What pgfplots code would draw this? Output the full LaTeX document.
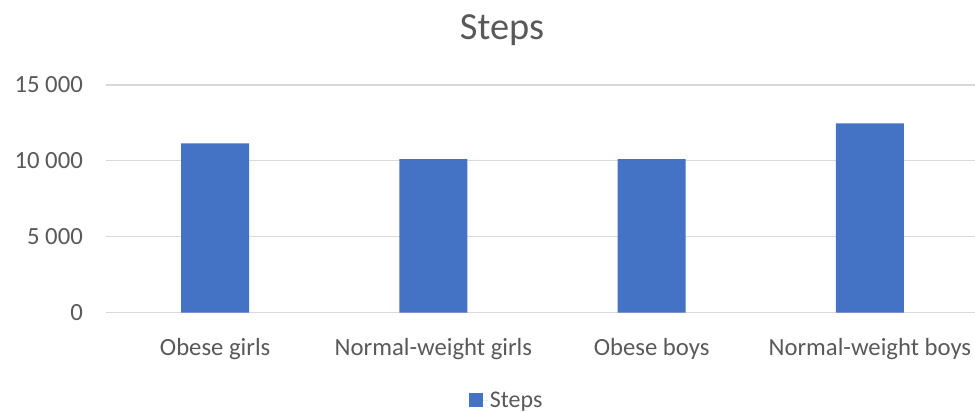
\documentclass[border=0pt]{standalone}
\usepackage{pgfplots}
\pgfplotsset{compat=1.18}
\usepackage{fontspec}
\setmainfont{Carlito}
\definecolor{barblue}{HTML}{4472C4}
\definecolor{gridgray}{HTML}{D9D9D9}
\definecolor{txtgray}{HTML}{595959}
\begin{document}
\begin{tikzpicture}
\useasboundingbox (0bp,0bp) rectangle (975bp,412bp);
\begin{axis}[
  at={(106bp,99.3bp)}, anchor=south west,
  scale only axis, width=873bp, height=227.7bp,
  ymin=0, ymax=15000, xmin=-0.5, xmax=3.5,
  scaled ticks=false,
  ytick={0,5000,10000,15000},
  yticklabels={0,5 000,10 000,15 000},
  xtick={0,1,2,3},
  xticklabels={Obese girls,Normal-weight girls,Obese boys,Normal-weight boys},
  axis line style={draw=none},
  major tick length=0pt,
  ymajorgrids, grid style={gridgray, line width=1.2bp},
  tick label style={font=\fontsize{24.8}{30}\selectfont, text=txtgray, inner sep=0pt},
  yticklabel style={anchor=east, xshift=-23bp},
  xticklabel style={anchor=base, yshift=-42.5bp},
  title={Steps},
  title style={font=\fontsize{38.5}{46}\selectfont, text=txtgray, at={(0.4536,1.215)}, anchor=center},
  legend style={at={(0.459,-0.385)}, anchor=center, draw=none, fill=none,
    font=\fontsize{24}{28}\selectfont, text=txtgray, inner sep=0pt},
  legend image code/.code={\fill[barblue] (0bp,-7bp) rectangle (14bp,7bp); \path (14bp,0bp) -- (19bp,0bp);},
]
\addplot[ybar, fill=barblue, draw=none, bar width=68bp] coordinates {(0,11150) (1,10120) (2,10120) (3,12480)};
\addlegendentry{Steps}
\end{axis}
\end{tikzpicture}
\end{document}
